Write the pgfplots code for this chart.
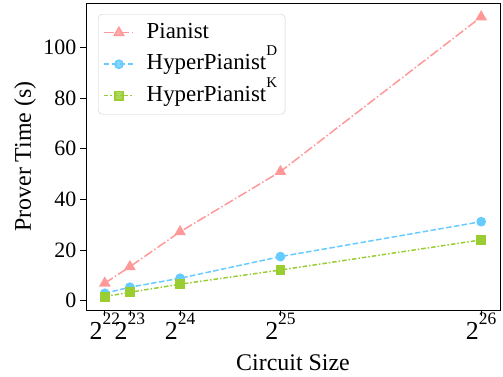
\documentclass[border=0pt]{standalone}
\usepackage{fontspec}
\setmainfont{Liberation Serif}
\usepackage{pgfplots}
\pgfplotsset{compat=1.18}
\definecolor{cP}{RGB}{255,153,153}
\definecolor{cD}{RGB}{102,204,255}
\definecolor{cK}{RGB}{154,205,50}
\definecolor{lgray}{RGB}{204,204,204}
\newcommand{\tp}[1]{2\raisebox{15bp}{\fontsize{17.5}{18}\selectfont #1}}
\newcommand{\lsup}[1]{\raisebox{14bp}{\fontsize{15}{15}\selectfont #1}}
\begin{document}
\begin{tikzpicture}
\useasboundingbox (-86bp,-67bp) rectangle (417bp,310bp);
\begin{axis}[
 at={(0,0)}, anchor=south west, scale only axis,
 width=414bp, height=307bp,
 xmin=0.25, xmax=16.75, ymin=-3.7, ymax=117.6,
 xtick={1,2,4,8,16},
 xticklabels={\tp{22},\tp{23},\tp{24},\tp{25},\tp{26}},
 ytick={0,20,40,60,80,100},
 yticklabels={0,20,40,60,80,100},
 tick pos=left, tick align=outside,
 major tick length=5.5bp,
 tick style={black, line width=0.8bp},
 axis line style={line width=0.8bp},
 yticklabel style={font=\fontsize{22}{22}\selectfont, inner sep=0pt, xshift=-4bp},
 xticklabel style={font=\fontsize{26}{26}\selectfont, anchor=base, inner sep=0pt, yshift=-24bp},
 xlabel={Circuit Size}, ylabel={Prover Time (s)},
 label style={font=\fontsize{24}{24}\selectfont},
 xlabel style={at={(axis description cs:0.5,-0.198)}, anchor=base},
 ylabel style={at={(axis description cs:-0.147,0.5)}, anchor=center, rotate=0},
 legend cell align=left,
 legend style={at={(axis description cs:0.029,0.964)}, anchor=north west,
   draw=lgray, rounded corners=4bp, fill=white, fill opacity=0.8, text opacity=1,
   font=\fontsize{23}{26}\selectfont, row sep=4.5bp, column sep=9bp, inner sep=5bp,
   nodes={text height=16bp, text depth=5bp, inner sep=3bp}},
 legend image code/.code={\draw[mark repeat=2,mark phase=2,#1] plot coordinates {(0bp,0bp)(15bp,0bp)(30bp,0bp)};},
]
\addplot[cP, line width=1.5bp, dash pattern=on 9.6bp off 2.4bp on 1.5bp off 2.4bp, mark=triangle*, mark size=5.3bp, mark options={solid}]
 coordinates {(1,6.9)(2,13.4)(4,27.2)(8,51)(16,112.1)};
\addlegendentry{Pianist}
\addplot[cD, line width=1.5bp, dash pattern=on 5.5bp off 2.4bp, mark=*, mark size=4.1bp, mark options={solid}]
 coordinates {(1,2.9)(2,5.3)(4,8.85)(8,17.4)(16,31.2)};
\addlegendentry{HyperPianist\lsup{D}}
\addplot[cK, line width=1.5bp, dash pattern=on 4.5bp off 2bp on 1.5bp off 2bp, mark=square*, mark size=4.2bp, mark options={solid}]
 coordinates {(1,1.6)(2,3.3)(4,6.5)(8,12.1)(16,24)};
\addlegendentry{HyperPianist\lsup{K}}
\end{axis}
\end{tikzpicture}
\end{document}
